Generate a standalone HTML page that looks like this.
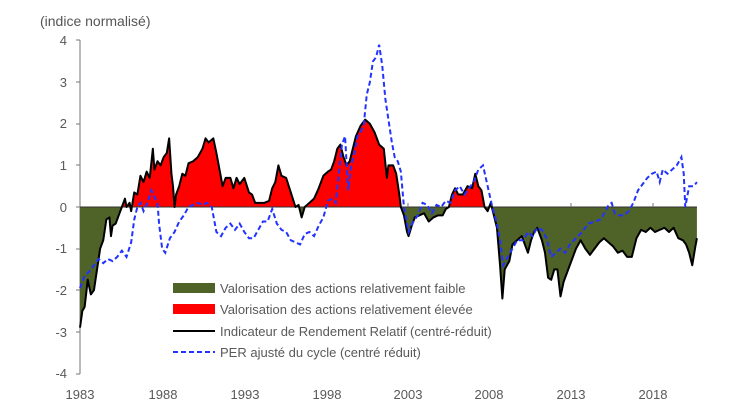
<!DOCTYPE html>
<html><head><meta charset="utf-8"><style>
html,body{margin:0;padding:0;background:#fff}
svg{display:block;font-family:"Liberation Sans",sans-serif}
</style></head><body>
<svg width="730" height="410" viewBox="0 0 730 410" xmlns="http://www.w3.org/2000/svg">
<defs>
<clipPath id="pos"><rect x="0" y="0" width="730" height="207"/></clipPath>
<clipPath id="neg"><rect x="0" y="207" width="730" height="203"/></clipPath>
<path id="rrf" d="M0,0 L0,-2.9 L0.15,-2.5 L0.3,-2.4 L0.5,-1.75 L0.7,-2.1 L0.9,-2.0 L1.1,-1.5 L1.3,-1.0 L1.5,-0.8 L1.7,-0.3 L1.9,-0.25 L2.0,-0.7 L2.1,-0.45 L2.3,-0.4 L2.5,-0.2 L2.7,0.0 L2.9,0.2 L3.0,0.0 L3.2,0.1 L3.3,-0.1 L3.5,0.35 L3.7,0.3 L3.9,0.75 L4.1,0.6 L4.3,0.85 L4.5,0.7 L4.7,1.4 L4.8,0.9 L5.0,1.1 L5.2,1.0 L5.4,1.2 L5.6,1.3 L5.75,1.65 L5.9,0.8 L6.0,0.5 L6.1,0.0 L6.2,0.3 L6.4,0.5 L6.6,0.8 L6.8,0.75 L7.0,1.05 L7.3,1.1 L7.6,1.2 L7.9,1.4 L8.1,1.65 L8.3,1.55 L8.6,1.65 L8.8,1.3 L9.0,0.9 L9.2,0.5 L9.4,0.7 L9.7,0.7 L9.9,0.45 L10.1,0.7 L10.3,0.55 L10.6,0.7 L10.9,0.35 L11.1,0.3 L11.3,0.1 L11.6,0.1 L11.9,0.1 L12.2,0.15 L12.4,0.45 L12.6,0.6 L12.8,1.0 L13.0,0.75 L13.3,0.7 L13.6,0.35 L13.9,0.0 L14.1,0.05 L14.3,-0.25 L14.5,0.0 L14.8,0.1 L15.1,0.2 L15.4,0.45 L15.7,0.75 L16.0,0.85 L16.2,0.9 L16.4,1.1 L16.6,1.4 L16.8,1.5 L17.0,1.2 L17.2,1.0 L17.4,1.1 L17.6,1.4 L17.8,1.7 L18.1,1.95 L18.4,2.1 L18.7,2.0 L19.0,1.8 L19.3,1.5 L19.6,1.4 L19.8,0.7 L19.9,1.0 L20.2,1.0 L20.4,0.8 L20.6,0.3 L20.7,0.0 L20.9,-0.2 L21.1,-0.6 L21.2,-0.7 L21.4,-0.45 L21.6,-0.25 L21.9,-0.2 L22.2,-0.15 L22.5,-0.35 L22.8,-0.25 L23.1,-0.2 L23.4,-0.2 L23.6,-0.05 L23.8,0.0 L24.0,0.3 L24.2,0.45 L24.4,0.3 L24.7,0.3 L25.0,0.5 L25.3,0.45 L25.5,0.8 L25.7,0.5 L25.9,0.4 L26.0,0.2 L26.1,0.0 L26.3,-0.1 L26.5,0.1 L26.7,-0.2 L26.9,-0.5 L27.1,-1.4 L27.25,-2.2 L27.4,-1.5 L27.7,-1.3 L27.9,-0.9 L28.2,-0.8 L28.5,-0.7 L28.7,-0.9 L28.9,-1.1 L29.1,-0.8 L29.3,-0.6 L29.5,-0.5 L29.8,-0.8 L30.0,-1.1 L30.2,-1.7 L30.4,-1.75 L30.6,-1.5 L30.8,-1.5 L31.0,-2.15 L31.2,-1.8 L31.5,-1.5 L31.8,-1.2 L32.0,-1.0 L32.3,-0.8 L32.6,-1.0 L32.9,-1.15 L33.2,-1.0 L33.5,-0.85 L33.8,-0.75 L34.1,-0.85 L34.4,-0.95 L34.7,-1.1 L35.0,-1.05 L35.3,-1.2 L35.6,-1.2 L35.9,-0.75 L36.2,-0.55 L36.5,-0.6 L36.8,-0.5 L37.1,-0.6 L37.4,-0.55 L37.7,-0.5 L38.0,-0.6 L38.3,-0.5 L38.6,-0.75 L38.9,-0.8 L39.1,-0.9 L39.3,-1.1 L39.5,-1.4 L39.7,-0.95 L39.8,-0.75 L39.8,0 Z"/>
</defs>
<text x="40" y="26" font-size="14" fill="#555">(indice normalisé)</text>
<g font-size="13" fill="#595959" text-anchor="end">
<text x="67" y="45">4</text><text x="67" y="87">3</text><text x="67" y="128">2</text><text x="67" y="170">1</text><text x="67" y="212">0</text><text x="67" y="253">-1</text><text x="67" y="295">-2</text><text x="67" y="337">-3</text><text x="67" y="378">-4</text>
</g>
<g font-size="13" fill="#595959" text-anchor="middle">
<text x="80" y="399">1983</text><text x="163" y="399">1988</text><text x="245" y="399">1993</text><text x="327" y="399">1998</text><text x="408" y="399">2003</text><text x="489" y="399">2008</text><text x="571" y="399">2013</text><text x="653" y="399">2018</text>
</g>
<g stroke="#777" stroke-width="1">
<line x1="80" y1="40" x2="80" y2="374"/>
<line x1="76" y1="40" x2="80" y2="40"/><line x1="76" y1="82" x2="80" y2="82"/><line x1="76" y1="124" x2="80" y2="124"/><line x1="76" y1="165" x2="80" y2="165"/><line x1="76" y1="207" x2="80" y2="207"/><line x1="76" y1="249" x2="80" y2="249"/><line x1="76" y1="290" x2="80" y2="290"/><line x1="76" y1="332" x2="80" y2="332"/><line x1="76" y1="374" x2="80" y2="374"/>
</g>
<g clip-path="url(#pos)"><g transform="translate(80,207) scale(15.5,-41.6)"><use href="#rrf" fill="#ff0000"/></g></g>
<g clip-path="url(#neg)"><g transform="translate(80,207) scale(15.5,-41.6)"><use href="#rrf" fill="#4f6228"/></g></g>
<line x1="80" y1="207" x2="697" y2="207" stroke="#333" stroke-width="1"/>
<g transform="translate(80,207) scale(15.5,-41.6)">
<path fill="none" stroke="#000" stroke-width="2" stroke-linejoin="round" vector-effect="non-scaling-stroke" d="M0,-2.9 L0.15,-2.5 L0.3,-2.4 L0.5,-1.75 L0.7,-2.1 L0.9,-2.0 L1.1,-1.5 L1.3,-1.0 L1.5,-0.8 L1.7,-0.3 L1.9,-0.25 L2.0,-0.7 L2.1,-0.45 L2.3,-0.4 L2.5,-0.2 L2.7,0.0 L2.9,0.2 L3.0,0.0 L3.2,0.1 L3.3,-0.1 L3.5,0.35 L3.7,0.3 L3.9,0.75 L4.1,0.6 L4.3,0.85 L4.5,0.7 L4.7,1.4 L4.8,0.9 L5.0,1.1 L5.2,1.0 L5.4,1.2 L5.6,1.3 L5.75,1.65 L5.9,0.8 L6.0,0.5 L6.1,0.0 L6.2,0.3 L6.4,0.5 L6.6,0.8 L6.8,0.75 L7.0,1.05 L7.3,1.1 L7.6,1.2 L7.9,1.4 L8.1,1.65 L8.3,1.55 L8.6,1.65 L8.8,1.3 L9.0,0.9 L9.2,0.5 L9.4,0.7 L9.7,0.7 L9.9,0.45 L10.1,0.7 L10.3,0.55 L10.6,0.7 L10.9,0.35 L11.1,0.3 L11.3,0.1 L11.6,0.1 L11.9,0.1 L12.2,0.15 L12.4,0.45 L12.6,0.6 L12.8,1.0 L13.0,0.75 L13.3,0.7 L13.6,0.35 L13.9,0.0 L14.1,0.05 L14.3,-0.25 L14.5,0.0 L14.8,0.1 L15.1,0.2 L15.4,0.45 L15.7,0.75 L16.0,0.85 L16.2,0.9 L16.4,1.1 L16.6,1.4 L16.8,1.5 L17.0,1.2 L17.2,1.0 L17.4,1.1 L17.6,1.4 L17.8,1.7 L18.1,1.95 L18.4,2.1 L18.7,2.0 L19.0,1.8 L19.3,1.5 L19.6,1.4 L19.8,0.7 L19.9,1.0 L20.2,1.0 L20.4,0.8 L20.6,0.3 L20.7,0.0 L20.9,-0.2 L21.1,-0.6 L21.2,-0.7 L21.4,-0.45 L21.6,-0.25 L21.9,-0.2 L22.2,-0.15 L22.5,-0.35 L22.8,-0.25 L23.1,-0.2 L23.4,-0.2 L23.6,-0.05 L23.8,0.0 L24.0,0.3 L24.2,0.45 L24.4,0.3 L24.7,0.3 L25.0,0.5 L25.3,0.45 L25.5,0.8 L25.7,0.5 L25.9,0.4 L26.0,0.2 L26.1,0.0 L26.3,-0.1 L26.5,0.1 L26.7,-0.2 L26.9,-0.5 L27.1,-1.4 L27.25,-2.2 L27.4,-1.5 L27.7,-1.3 L27.9,-0.9 L28.2,-0.8 L28.5,-0.7 L28.7,-0.9 L28.9,-1.1 L29.1,-0.8 L29.3,-0.6 L29.5,-0.5 L29.8,-0.8 L30.0,-1.1 L30.2,-1.7 L30.4,-1.75 L30.6,-1.5 L30.8,-1.5 L31.0,-2.15 L31.2,-1.8 L31.5,-1.5 L31.8,-1.2 L32.0,-1.0 L32.3,-0.8 L32.6,-1.0 L32.9,-1.15 L33.2,-1.0 L33.5,-0.85 L33.8,-0.75 L34.1,-0.85 L34.4,-0.95 L34.7,-1.1 L35.0,-1.05 L35.3,-1.2 L35.6,-1.2 L35.9,-0.75 L36.2,-0.55 L36.5,-0.6 L36.8,-0.5 L37.1,-0.6 L37.4,-0.55 L37.7,-0.5 L38.0,-0.6 L38.3,-0.5 L38.6,-0.75 L38.9,-0.8 L39.1,-0.9 L39.3,-1.1 L39.5,-1.4 L39.7,-0.95 L39.8,-0.75"/>
<path fill="none" stroke="#2233ff" stroke-width="2" stroke-dasharray="5,3" vector-effect="non-scaling-stroke" d="M0,-1.95 L0.3,-1.65 L0.6,-1.55 L0.9,-1.4 L1.2,-1.25 L1.5,-1.35 L1.8,-1.25 L2.1,-1.3 L2.4,-1.2 L2.7,-1.05 L3.0,-1.2 L3.3,-0.85 L3.5,-0.3 L3.7,0.0 L3.9,0.1 L4.1,-0.1 L4.4,0.15 L4.6,0.4 L4.8,0.25 L5.0,0.1 L5.1,-0.4 L5.3,-1.0 L5.5,-1.1 L5.8,-0.75 L6.1,-0.6 L6.4,-0.35 L6.7,-0.2 L7.0,0.0 L7.3,0.05 L7.6,0.1 L7.9,0.05 L8.2,0.1 L8.5,0.0 L8.8,-0.6 L9.1,-0.7 L9.4,-0.5 L9.7,-0.4 L10.0,-0.55 L10.3,-0.4 L10.6,-0.6 L10.9,-0.75 L11.2,-0.75 L11.5,-0.55 L11.8,-0.35 L12.1,-0.35 L12.4,-0.05 L12.7,-0.4 L13.0,-0.55 L13.3,-0.6 L13.6,-0.8 L13.9,-0.85 L14.2,-0.9 L14.5,-0.65 L14.8,-0.6 L15.1,-0.7 L15.4,-0.45 L15.7,-0.25 L16.0,0.15 L16.3,0.2 L16.5,0.1 L16.7,0.8 L16.9,1.5 L17.1,1.7 L17.3,0.4 L17.5,1.0 L17.7,1.3 L17.9,1.7 L18.1,1.8 L18.3,1.95 L18.5,2.7 L18.7,3.0 L18.9,3.5 L19.1,3.6 L19.3,3.9 L19.5,3.4 L19.7,2.6 L19.9,2.1 L20.1,1.6 L20.3,1.2 L20.5,1.1 L20.7,0.85 L20.9,0.0 L21.2,-0.6 L21.5,-0.35 L21.8,-0.2 L22.1,0.1 L22.4,0.05 L22.7,-0.15 L23.0,0.05 L23.3,0.0 L23.6,0.15 L23.9,0.1 L24.2,0.4 L24.5,0.5 L24.8,0.3 L25.1,0.45 L25.4,0.6 L25.7,0.9 L26.0,1.0 L26.3,0.5 L26.6,0.0 L26.9,-0.4 L27.1,-0.8 L27.3,-1.4 L27.6,-1.2 L27.9,-1.0 L28.2,-0.8 L28.6,-0.8 L28.9,-0.6 L29.2,-0.7 L29.5,-0.5 L29.8,-0.55 L30.1,-0.75 L30.4,-1.2 L30.7,-1.1 L31.0,-1.0 L31.3,-1.1 L31.6,-0.9 L32.0,-0.75 L32.4,-0.6 L32.8,-0.4 L33.2,-0.35 L33.6,-0.3 L33.9,-0.1 L34.1,0.05 L34.3,0.1 L34.5,-0.15 L34.8,-0.2 L35.1,-0.2 L35.4,-0.1 L35.7,0.1 L36.0,0.4 L36.3,0.55 L36.6,0.7 L36.9,0.8 L37.2,0.85 L37.4,0.6 L37.6,0.9 L37.9,0.8 L38.2,0.9 L38.5,1.0 L38.8,1.2 L38.95,0.8 L39.05,0.0 L39.3,0.5 L39.6,0.5 L39.8,0.6"/>
</g>
<g stroke="#777"><line x1="408" y1="203" x2="408" y2="207"/><line x1="571" y1="203" x2="571" y2="207"/><line x1="653" y1="203" x2="653" y2="207"/></g>
<g font-size="13" fill="#595959">
<rect x="173" y="283" width="42" height="10" fill="#4f6228"/>
<text x="220" y="293">Valorisation des actions relativement faible</text>
<rect x="173" y="304" width="42" height="10" fill="#ff0000"/>
<text x="220" y="314">Valorisation des actions relativement élevée</text>
<line x1="173" y1="331" x2="215" y2="331" stroke="#000" stroke-width="2"/>
<text x="220" y="336">Indicateur de Rendement Relatif (centré-réduit)</text>
<line x1="173" y1="352" x2="215" y2="352" stroke="#2233ff" stroke-width="2" stroke-dasharray="5,3"/>
<text x="220" y="357">PER ajusté du cycle (centré réduit)</text>
</g>
</svg>
</body></html>
